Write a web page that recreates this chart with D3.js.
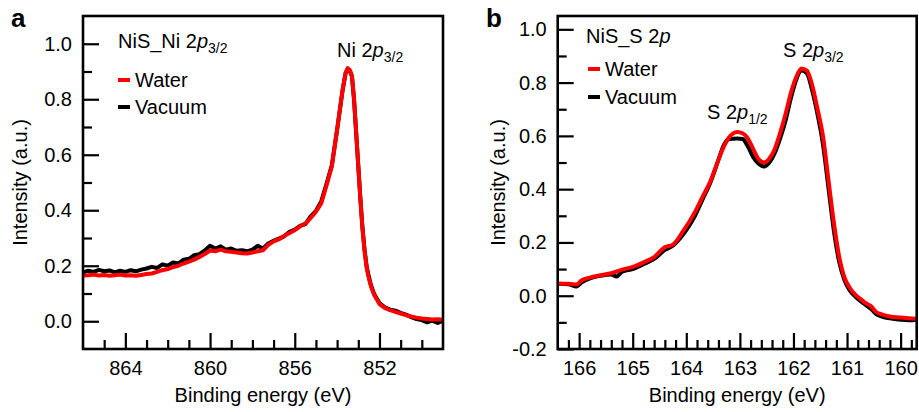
<!DOCTYPE html>
<html>
<head>
<meta charset="utf-8">
<script src="https://cdn.jsdelivr.net/npm/d3@7"></script>
<style>
  html, body { margin: 0; padding: 0; background: #fff; }
  svg { display: block; font-family: "Liberation Sans", Arial, sans-serif; }
</style>
</head>
<body>
<svg id="chart" width="919" height="412"></svg>
<script>
// ---- Panel a: Ni 2p3/2 region ----
const energyA = [
  866.0, 865.75, 865.5, 865.25, 865.0, 864.75, 864.5, 864.25, 864.0, 863.75,
  863.5, 863.25, 863.0, 862.75, 862.5, 862.25, 862.0, 861.75, 861.5, 861.25,
  861.0, 860.75, 860.5, 860.25, 860.0, 859.75, 859.5, 859.25, 859.0, 858.75,
  858.5, 858.25, 858.0, 857.75, 857.5, 857.25, 857.0, 856.75, 856.5, 856.25,
  856.0, 855.75, 855.5, 855.25, 855.0, 854.75,
  854.5, 854.25, 854.0, 853.75, 853.6, 853.5, 853.4, 853.3, 853.2, 853.1,
  853.0, 852.9, 852.8, 852.7, 852.6, 852.5, 852.4, 852.25, 852.0,
  851.75, 851.5, 851.25, 851.0, 850.75, 850.5, 850.25, 850.0, 849.75, 849.5,
  849.25, 849.0
];
const waterA = [
  0.165, 0.166, 0.168, 0.165, 0.167, 0.164, 0.166, 0.168, 0.165, 0.166,
  0.164, 0.167, 0.170, 0.172, 0.178, 0.184, 0.188, 0.195, 0.200, 0.208,
  0.215, 0.222, 0.232, 0.242, 0.255, 0.252, 0.258, 0.252, 0.250, 0.248,
  0.245, 0.244, 0.248, 0.252, 0.256, 0.275, 0.288, 0.295, 0.308, 0.318,
  0.328, 0.342, 0.352, 0.372, 0.395, 0.425,
  0.490, 0.558, 0.690, 0.830, 0.895, 0.912, 0.905, 0.885, 0.800, 0.680,
  0.560, 0.440, 0.330, 0.250, 0.190, 0.155, 0.125, 0.095, 0.062,
  0.048, 0.040, 0.034, 0.028, 0.022, 0.017, 0.013, 0.010, 0.008, 0.006,
  0.007, 0.005
];
const vacuumA = [
  0.175, 0.182, 0.178, 0.185, 0.180, 0.183, 0.176, 0.182, 0.178, 0.184,
  0.180, 0.186, 0.190, 0.196, 0.192, 0.205, 0.200, 0.212, 0.208, 0.222,
  0.225, 0.238, 0.242, 0.255, 0.272, 0.262, 0.270, 0.258, 0.262, 0.254,
  0.256, 0.252, 0.258, 0.272, 0.262, 0.280, 0.290, 0.298, 0.306, 0.322,
  0.330, 0.344, 0.350, 0.378, 0.398, 0.432,
  0.495, 0.562, 0.690, 0.828, 0.893, 0.910, 0.903, 0.882, 0.798, 0.678,
  0.558, 0.440, 0.335, 0.255, 0.195, 0.160, 0.130, 0.098, 0.066,
  0.050, 0.042, 0.038, 0.030, 0.024, 0.015, 0.008, 0.004, -0.004, 0.002,
  -0.006, 0.003
];

// ---- Panel b: S 2p region ----
const energyB = [
  166.4, 166.2, 166.05, 165.95, 165.8, 165.6, 165.4, 165.3, 165.2, 165.0,
  164.8, 164.6, 164.4, 164.25, 164.05, 163.85, 163.7, 163.55, 163.4, 163.3,
  163.2, 163.05, 162.95, 162.85, 162.75, 162.65, 162.55, 162.45, 162.35, 162.25,
  162.15, 162.05, 161.95, 161.85, 161.75, 161.65, 161.55, 161.45, 161.35, 161.25,
  161.15, 161.05, 160.95, 160.85, 160.75, 160.65, 160.55, 160.45, 160.35, 160.2,
  160.0, 159.85, 159.7
];
const waterB = [
  0.045, 0.045, 0.042, 0.058, 0.068, 0.077, 0.085, 0.091, 0.098, 0.108,
  0.125, 0.145, 0.182, 0.192, 0.245, 0.310, 0.370, 0.430, 0.510, 0.560,
  0.595, 0.615, 0.610, 0.590, 0.550, 0.512, 0.500, 0.515, 0.550, 0.610,
  0.680, 0.760, 0.820, 0.853, 0.845, 0.790, 0.700, 0.600, 0.440, 0.280,
  0.150, 0.070, 0.030, 0.005, -0.012, -0.028, -0.040, -0.062, -0.070, -0.078,
  -0.082, -0.085, -0.086
];
const vacuumB = [
  0.045, 0.043, 0.035, 0.050, 0.065, 0.075, 0.080, 0.072, 0.090, 0.100,
  0.118, 0.138, 0.172, 0.188, 0.232, 0.295, 0.360, 0.425, 0.510, 0.565,
  0.588, 0.590, 0.588, 0.560, 0.520, 0.495, 0.485, 0.500, 0.535, 0.590,
  0.655, 0.740, 0.810, 0.845, 0.835, 0.770, 0.680, 0.570, 0.410, 0.250,
  0.130, 0.060, 0.020, -0.002, -0.020, -0.035, -0.050, -0.070, -0.078, -0.085,
  -0.090, -0.092, -0.090
];

// Axis tick values
const xMajorA = [864, 860, 856, 852];
const xMinorA = [865, 863, 862, 861, 859, 858, 857, 855, 854, 853, 851, 850];
const yMajorA = [0.0, 0.2, 0.4, 0.6, 0.8, 1.0];
const yMinorA = [0.1, 0.3, 0.5, 0.7, 0.9];
const xMajorB = [166, 165, 164, 163, 162, 161, 160];
const yMajorB = [-0.2, 0.0, 0.2, 0.4, 0.6, 0.8, 1.0];
const yMinorB = [-0.1, 0.1, 0.3, 0.5, 0.7, 0.9];

const seriesNames = ["Water", "Vacuum"];
const seriesColors = ["#ff0000", "#000000"];

const svg = d3.select("#chart");
const FONT = 20;

function panel(cfg) {
  const { id, x0, x1, y0, y1, xDomain, yDomain, xMajor, xMinor, yMajor, yMinor,
          energy, water, vacuum, fmtX, fmtY, curve } = cfg;
  const x = d3.scaleLinear().domain(xDomain).range([x0, x1]);
  const y = d3.scaleLinear().domain(yDomain).range([y1, y0]);
  const g = svg.append("g");

  g.append("clipPath").attr("id", "clip-" + id)
    .append("rect").attr("x", x0).attr("y", y0).attr("width", x1 - x0).attr("height", y1 - y0);

  // curves: vacuum first, water on top
  const line = d3.line().x(d => x(d[0])).y(d => y(d[1])).curve(curve);
  const plot = g.append("g").attr("clip-path", `url(#clip-${id})`);
  [[vacuum, seriesColors[1]], [water, seriesColors[0]]].forEach(([vals, col]) => {
    plot.append("path")
      .datum(energy.map((e, i) => [e, vals[i]]))
      .attr("fill", "none").attr("stroke", col)
      .attr("stroke-width", 4).attr("stroke-linejoin", "round").attr("stroke-linecap", "round")
      .attr("d", line);
  });

  // bottom axis (ticks point inward)
  g.append("g").attr("transform", `translate(0,${y1})`)
    .call(d3.axisBottom(x).tickValues(xMajor).tickFormat(fmtX).tickSizeInner(-16).tickSizeOuter(0).tickPadding(12));
  g.append("g").attr("transform", `translate(0,${y1})`)
    .call(d3.axisBottom(x).tickValues(xMinor).tickFormat("").tickSizeInner(-9).tickSizeOuter(0));
  // left axis (ticks point inward)
  g.append("g").attr("transform", `translate(${x0},0)`)
    .call(d3.axisLeft(y).tickValues(yMajor).tickFormat(fmtY).tickSizeInner(-16).tickSizeOuter(0).tickPadding(11));
  g.append("g").attr("transform", `translate(${x0},0)`)
    .call(d3.axisLeft(y).tickValues(yMinor).tickFormat("").tickSizeInner(-9).tickSizeOuter(0));

  g.selectAll(".domain").remove();
  g.selectAll(".tick line").attr("stroke", "#000").attr("stroke-width", 2.2);
  g.selectAll(".tick text").attr("font-size", FONT).attr("fill", "#000")
    .attr("font-family", "Liberation Sans, Arial, sans-serif");

  // frame
  g.append("rect").attr("x", x0).attr("y", y0).attr("width", x1 - x0).attr("height", y1 - y0)
    .attr("fill", "none").attr("stroke", "#000").attr("stroke-width", 2.6);

  // axis titles
  g.append("text").attr("x", (x0 + x1) / 2).attr("y", 402).attr("text-anchor", "middle")
    .attr("font-size", FONT).text("Binding energy (eV)");
  g.append("text").attr("transform", `translate(${cfg.yTitleX},${(y0 + y1) / 2}) rotate(-90)`)
    .attr("text-anchor", "middle").attr("font-size", FONT).text("Intensity (a.u.)");

  return { g, x, y };
}

function labelWithSub(g, x, y, pre, italic, sub, size) {
  const t = g.append("text").attr("x", x).attr("y", y).attr("font-size", size || FONT);
  t.append("tspan").text(pre);
  t.append("tspan").attr("font-style", "italic").text(italic);
  if (sub) t.append("tspan").attr("font-size", 14).attr("dy", 5).text(sub);
  return t;
}

function legend(g, lx, rows) {
  rows.forEach((r, i) => {
    g.append("line").attr("x1", lx).attr("x2", lx + 12).attr("y1", r.ly).attr("y2", r.ly)
      .attr("stroke", seriesColors[i]).attr("stroke-width", 4);
    g.append("text").attr("x", lx + 17).attr("y", r.ty).attr("font-size", FONT).text(seriesNames[i]);
  });
}

// Panel a
const A = panel({
  id: "a", x0: 83, x1: 443, y0: 16, y1: 349,
  xDomain: [866, 849], yDomain: [-0.1, 1.1],
  xMajor: xMajorA, xMinor: xMinorA, yMajor: yMajorA, yMinor: yMinorA,
  energy: energyA, water: waterA, vacuum: vacuumA,
  fmtX: d3.format("d"), fmtY: d3.format(".1f"), curve: d3.curveLinear, yTitleX: 27
});
svg.append("text").attr("x", 11).attr("y", 27).attr("font-size", 26).attr("font-weight", "bold").text("a");
labelWithSub(A.g, 118, 48, "NiS_Ni 2", "p", "3/2");
labelWithSub(A.g, 337, 57, "Ni 2", "p", "3/2");
legend(A.g, 118, [{ ly: 80, ty: 87 }, { ly: 107, ty: 114 }]);

// Panel b
const xMinorB = d3.range(166.4, 159.6, -0.2).map(v => +v.toFixed(1))
  .filter(v => Math.abs(v - Math.round(v)) > 0.05 && v < 166.4 && v > 159.7);
const B = panel({
  id: "b", x0: 557.7, x1: 916.7, y0: 16, y1: 349,
  xDomain: [166.4, 159.7], yDomain: [-0.2, 1.05],
  xMajor: xMajorB, xMinor: xMinorB, yMajor: yMajorB, yMinor: yMinorB,
  energy: energyB, water: waterB, vacuum: vacuumB,
  fmtX: d3.format("d"), fmtY: v => d3.format(".1f")(v).replace("−", "-"),
  curve: d3.curveMonotoneX, yTitleX: 505
});
svg.append("text").attr("x", 486).attr("y", 27).attr("font-size", 26).attr("font-weight", "bold").text("b");
labelWithSub(B.g, 586, 43, "NiS_S 2", "p", null);
labelWithSub(B.g, 783, 57, "S 2", "p", "3/2");
labelWithSub(B.g, 707, 119, "S 2", "p", "1/2");
legend(B.g, 588, [{ ly: 69, ty: 76 }, { ly: 97, ty: 104 }]);
</script>
</body>
</html>
